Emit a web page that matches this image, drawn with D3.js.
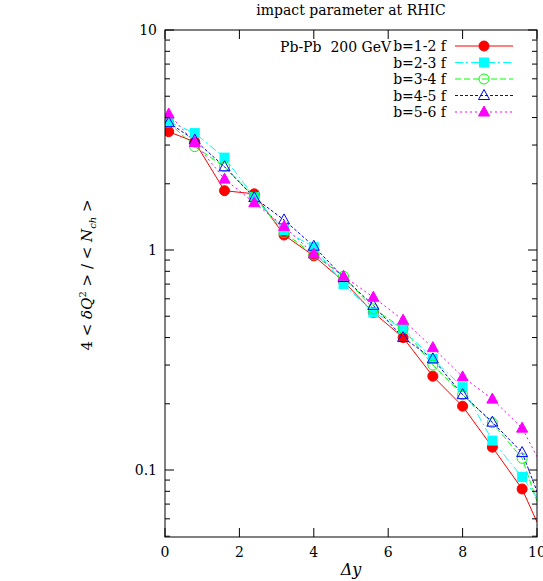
<!DOCTYPE html><html><head><script src="https://cdn.jsdelivr.net/npm/d3@7"></script>
<style>body{margin:0;background:#fff}text{font-family:"DejaVu Serif","Liberation Serif",serif;white-space:pre}</style></head><body><svg id="c" width="543" height="581"></svg>
<script>
const xs=[0.1,0.8,1.6,2.4,3.2,4.0,4.8,5.6,6.4,7.2,8.0,8.8,9.6,10.0];
const labels=["b=1-2 f","b=2-3 f","b=3-4 f","b=4-5 f","b=5-6 f"];
const s1=[3.45,3.10,1.86,1.80,1.17,0.94,0.72,0.52,0.40,0.267,0.195,0.127,0.082,0.058];
const s2=[3.83,3.40,2.63,1.74,1.23,1.03,0.70,0.52,0.44,0.32,0.238,0.136,0.093,0.075];
const s3=[3.80,2.95,2.39,1.74,1.20,0.95,0.76,0.54,0.44,0.30,0.22,0.164,0.113,0.072];
const s4=[3.79,3.16,2.39,1.73,1.37,1.04,0.75,0.56,0.40,0.32,0.22,0.165,0.12,0.08];
const s5=[4.15,3.08,2.10,1.64,1.28,0.96,0.76,0.61,0.48,0.36,0.265,0.21,0.155,0.115];
const series=[s1,s2,s3,s4,s5];
const colors=["#ff0000","#00ffff","#00ff00","#0000ff","#ff00ff"];
const dashes=[null,"8,3,2,3","6,3","3,2","2,3"];
const syms=["circleF","squareF","circleO","triO","triF"];
const svg=d3.select("#c");
const L=165,R=537,T=30,B=537;
const x=d3.scaleLinear().domain([0,10]).range([L,R]);
const y=d3.scaleLog().domain([0.0496,10]).range([B,T]);
svg.append("clipPath").attr("id","cp").append("rect").attr("x",L).attr("y",T).attr("width",R-L).attr("height",B-T);
function sym(sel,t,c,cx,cy){
 if(t.startsWith("circle"))sel.append("circle").attr("cx",cx).attr("cy",cy).attr("r",5).attr("fill",t.endsWith("F")?c:"none").attr("stroke",c);
 else if(t.startsWith("square"))sel.append("rect").attr("x",cx-5).attr("y",cy-5).attr("width",10).attr("height",10).attr("fill",c);
 else sel.append("path").attr("d",`M${cx},${cy-6}L${cx+5.5},${cy+4}L${cx-5.5},${cy+4}Z`).attr("fill",t.endsWith("F")?c:"none").attr("stroke",c);
}
const line=d3.line().x((d,i)=>x(xs[i])).y(d=>y(d));
const pg=svg.append("g").attr("clip-path","url(#cp)");
series.forEach((s,k)=>{
 pg.append("path").attr("d",line(s)).attr("fill","none").attr("stroke",colors[k]).attr("stroke-width",1).attr("stroke-dasharray",dashes[k]);
});
series.forEach((s,k)=>{s.forEach((v,i)=>{if(i<xs.length-1)sym(pg,syms[k],colors[k],x(xs[i]),y(v));});});
svg.append("rect").attr("x",L).attr("y",T).attr("width",R-L).attr("height",B-T).attr("fill","none").attr("stroke","#000");
const maj=[0.1,1,10];
const minors=[];[0.01,0.1,1].forEach(d=>{for(let m=2;m<=9;m++){const v=d*m;if(v>=0.0496&&v<10)minors.push(v);}});
maj.forEach(v=>{[[L,L+9],[R,R-9]].forEach(([a,b])=>svg.append("line").attr("x1",a).attr("x2",b).attr("y1",y(v)).attr("y2",y(v)).attr("stroke","#000"));
 svg.append("text").attr("x",L-8).attr("y",y(v)+5).attr("text-anchor","end").attr("font-size",14).text(v===0.1?"0.1":v);});
minors.forEach(v=>{[[L,L+5],[R,R-5]].forEach(([a,b])=>svg.append("line").attr("x1",a).attr("x2",b).attr("y1",y(v)).attr("y2",y(v)).attr("stroke","#000"));});
[0,2,4,6,8,10].forEach(v=>{[[B,B-9],[T,T+9]].forEach(([a,b])=>svg.append("line").attr("x1",x(v)).attr("x2",x(v)).attr("y1",a).attr("y2",b).attr("stroke","#000"));
 svg.append("text").attr("x",x(v)).attr("y",B+20).attr("text-anchor","middle").attr("font-size",14).text(v);});
svg.append("text").attr("x",351).attr("y",15).attr("text-anchor","middle").attr("font-size",14).text("impact parameter at RHIC");
svg.append("text").attr("x",351).attr("y",575).attr("text-anchor","middle").attr("font-size",16).attr("font-style","italic").text("Δy");
const yl=svg.append("text").attr("transform","translate(92,275) rotate(-90)").attr("text-anchor","middle").attr("font-size",15);
yl.append("tspan").text("4 < ");yl.append("tspan").attr("font-style","italic").text("δQ");yl.append("tspan").attr("dy",-6).attr("font-size",10).text("2");
yl.append("tspan").attr("dy",6).text(" > / < ");yl.append("tspan").attr("font-style","italic").text("N");yl.append("tspan").attr("dy",4).attr("font-size",10).attr("font-style","italic").text("ch");yl.append("tspan").attr("dy",-4).text(" >");
svg.append("text").attr("x",280).attr("y",52).attr("font-size",14).text("Pb-Pb  200 GeV");
labels.forEach((l,k)=>{const ly=46+k*16.5;
 svg.append("text").attr("x",446).attr("y",ly+5).attr("text-anchor","end").attr("font-size",14).text(l);
 svg.append("line").attr("x1",455).attr("x2",513).attr("y1",ly).attr("y2",ly).attr("stroke",colors[k]).attr("stroke-dasharray",dashes[k]);
 sym(svg,syms[k],colors[k],484,ly);});
</script></body></html>
